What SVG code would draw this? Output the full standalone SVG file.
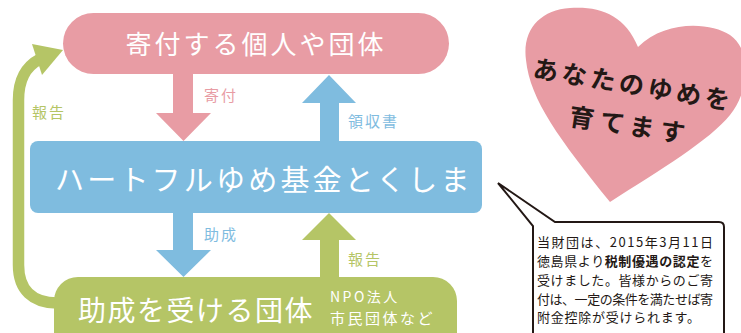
<svg xmlns="http://www.w3.org/2000/svg" width="741" height="333" viewBox="0 0 741 333">
<style>
.jp{font-family:"Noto Sans CJK JP","Noto Sans",sans-serif}
.big{fill:#fff;font-weight:400}
.lbl{font-size:15px;letter-spacing:2px}
.pink{fill:#E89CA4}
.blue{fill:#7FBCDF}
.green{fill:#B5C566}
.bub{font-size:13px;fill:#231815}
</style>
<rect width="741" height="333" fill="#fff"/>
<g id="heart">
<path class="pink" d="M638 47 C625 15 600 6 570 8 C540 10 522 30 526 60 C530 100 560 140 610 202 C660 170 710 140 730 115 C750 90 752 50 730 35 C710 22 665 20 638 47 Z"/>
<g class="jp" fill="#231815" font-weight="700" font-size="25">
<text x="532" y="77" letter-spacing="4" transform="rotate(9.5 532 77)">あなたのゆめを</text>
<text x="568" y="125" letter-spacing="6" transform="rotate(8.7 568 125)">育てます</text>
</g>
</g>
<g id="connectors">
<path class="pink" d="M173 74 H193 V113 H211 L183.5 141 L156 113 H173 Z"/>
<path class="blue" d="M320 141 V103 H302 L329 75 L356 103 H339 V141 Z"/>
<path class="blue" d="M173 213 H193 V250 H211 L183.5 277 L156 250 H173 Z"/>
<path class="green" d="M320 277 V240 H302 L329 213 L356 240 H339 V277 Z"/>
<path d="M57 303 C33 303 18.5 290 18.5 265 L18.5 100 C18.5 80 25 67 40 59" fill="none" stroke="#B5C566" stroke-width="11.5"/>
<polygon class="green" points="63,50 32,44 42,75"/>
<g class="jp lbl">
<text class="pink" x="204" y="101">寄付</text>
<text class="blue" x="348" y="127">領収書</text>
<text class="green" x="32" y="118">報告</text>
<text class="blue" x="204" y="240">助成</text>
<text class="green" x="348" y="265">報告</text>
</g>
</g>
<g id="donor">
<rect class="pink" x="63" y="13" width="386" height="61" rx="30.5"/>
<text class="jp big" x="256" y="54" font-size="26" letter-spacing="3" text-anchor="middle">寄付する個人や団体</text>
</g>
<g id="fund">
<rect class="blue" x="30" y="141" width="452" height="72" rx="8"/>
<text class="jp big" x="55" y="191" font-size="29" letter-spacing="3.2">ハートフルゆめ基金とくしま</text>
</g>
<g id="recipient">
<rect class="green" x="54" y="277" width="403" height="80" rx="24"/>
<text class="jp big" x="78" y="321" font-size="28" letter-spacing="1.5">助成を受ける団体</text>
<text class="jp big" x="330" y="302" font-size="14" letter-spacing="2.5">NPO法人</text>
<text class="jp big" x="330" y="324" font-size="15" letter-spacing="2.5">市民団体など</text>
</g>
<g id="bubble">
<path d="M533 340 V226 L498 183 L555 222 H719 Q724 222 724 227 V340" fill="#fff" stroke="#231815" stroke-width="2" stroke-linejoin="miter"/>
<g class="jp bub">
<text x="537" y="247" textLength="176" lengthAdjust="spacing">当財団は、2015年3月11日</text>
<text x="537" y="266" textLength="176" lengthAdjust="spacing">徳島県より<tspan font-weight="700">税制優遇の認定</tspan>を</text>
<text x="537" y="285" textLength="176" lengthAdjust="spacing">受けました。皆様からのご寄</text>
<text x="537" y="304" textLength="176" lengthAdjust="spacing">付は、一定の条件を満たせば寄</text>
<text x="537" y="322" textLength="163" lengthAdjust="spacing">附金控除が受けられます。</text>
</g>
</g>
</svg>
